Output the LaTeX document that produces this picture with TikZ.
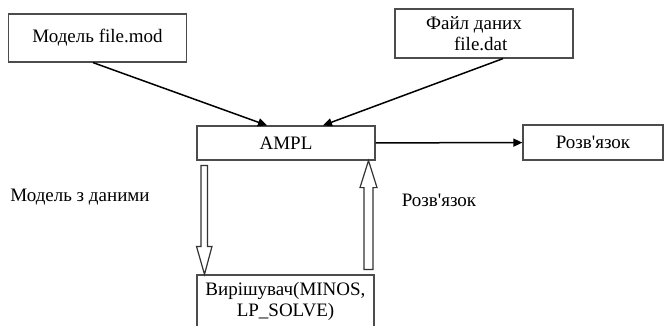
\documentclass[tikz,border=0pt]{standalone}
\usepackage{fontspec}
\setmainfont{Liberation Serif}[Ligatures=TeXOff]
\usetikzlibrary{arrows.meta,calc}

\begin{document}
\begin{tikzpicture}[
    x=1pt, y=-1pt,
    text centered,
    font=\fontsize{19}{21}\selectfont,
	block/.style={
	  rectangle,
	  minimum width=178,
	  draw=black!70,
	  line width=1.2pt,
	  inner sep=2pt
	},
	label/.style={
	  inner sep=0pt
	},
	hollow/.style={draw=black!80, line width=1.2pt, fill=white, line join=miter},
 	line/.style={draw, line width=1.5pt, -{Triangle[length=9pt,width=8pt]}}
	]
	\useasboundingbox (0, 0) rectangle (664, 326);
    \node at (97.5, 38) [block, minimum height=48] (model) {Модель file.mod};
	\node at (484, 33.5) [block, minimum height=49, align=left] (dani) {Файл даних\hspace*{20pt}\\\hspace*{28pt}file.dat};
	\node at (286, 143) [block, minimum height=34] (ampl) {AMPL};
	\node at (593, 142.5) [block, minimum width=140, minimum height=35] (rozv) {Розв'язок};
	\node at (285.5, 301) [block, minimum width=177, minimum height=52, align=center] (solver) {Вирішувач(MINOS,\\LP\_SOLVE)};
	\node at (80, 197) [label] (zdanymy) {Модель з даними};
	\node at (439, 200) [label] (rozvlabel) {Розв'язок};
	\path[line] (model.south -| 93, 0) -- (ampl.north -| 267, 0);
	\path[line] (dani.south -| 503, 0) -- (ampl.north -| 323, 0);
	\path[line] (ampl) -- (rozv);
	% hollow arrows between AMPL and the solver
	\path[hollow] ($(ampl.south -| 201, 0)+(0, 5)$) -- ($(solver.north -| 201, 0)+(0, -28)$)
	  -- ++(-4.5, 0) -- (solver.north -| 204.5, 0) -- ($(solver.north -| 212, 0)+(0, -28)$)
	  -- ++(-4.5, 0) -- ($(ampl.south -| 207.5, 0)+(0, 5)$) -- cycle;
	\path[hollow] ($(solver.north -| 364, 0)+(0, -5)$) -- ($(ampl.south -| 364, 0)+(0, 27)$)
	  -- ++(-4, 0) -- (ampl.south -| 368.5, 0) -- ($(ampl.south -| 377, 0)+(0, 27)$)
	  -- ++(-4, 0) -- ($(solver.north -| 373, 0)+(0, -5)$) -- cycle;
  \end{tikzpicture}
\end{document}
